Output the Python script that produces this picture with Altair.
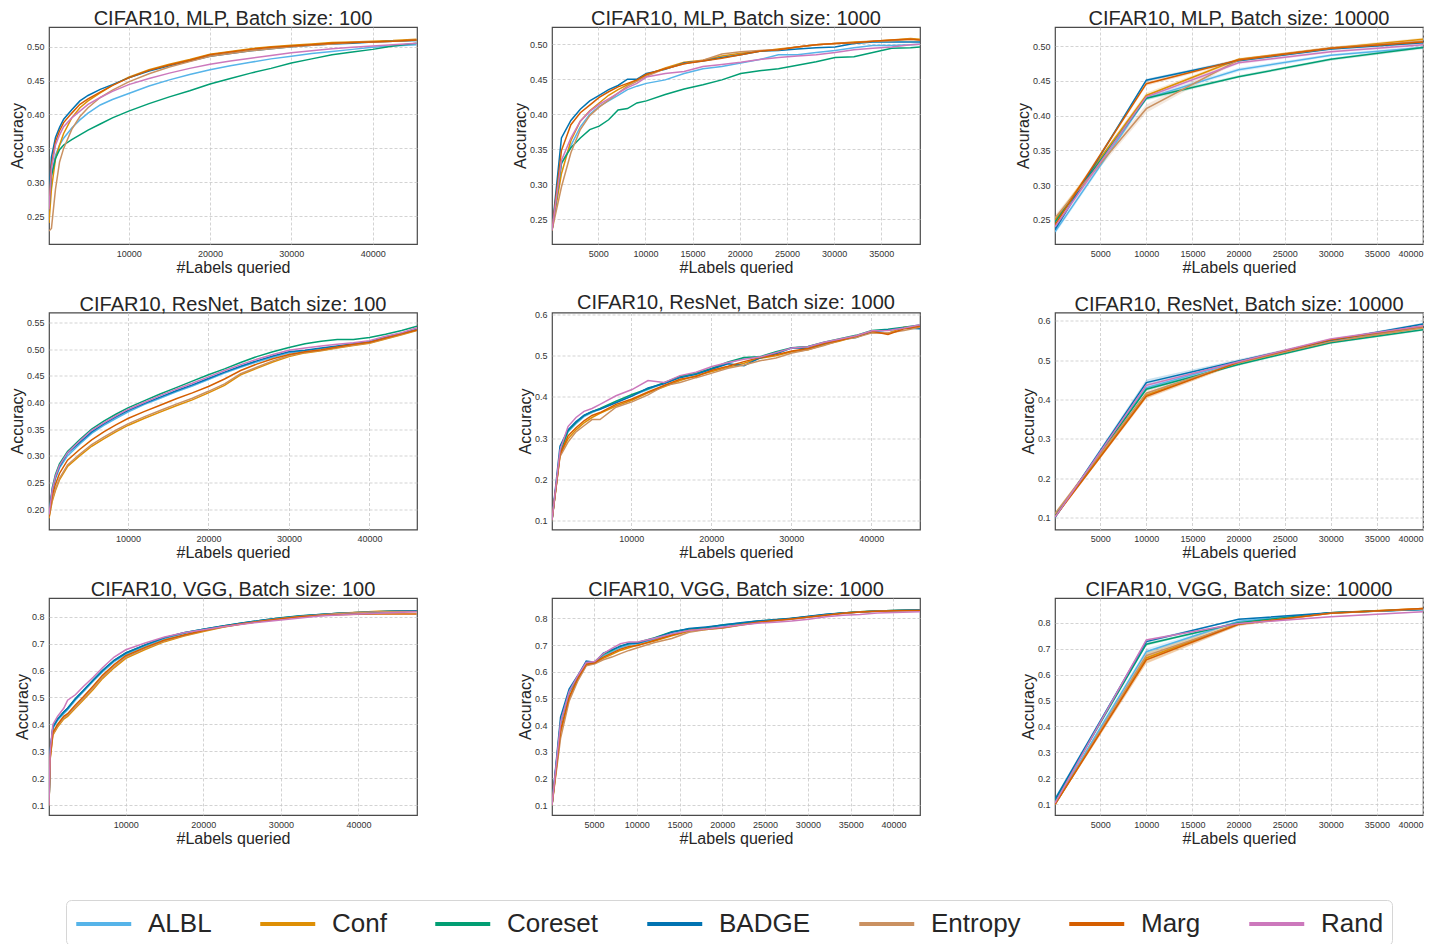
import altair as alt
import pandas as pd

METHODS = ["ALBL", "Conf", "Coreset", "BADGE", "Entropy", "Marg", "Rand"]
COLORS = ["#56B4E9", "#DE8F05", "#029E73", "#0173B2", "#CA9161", "#D55E00", "#CC78BC"]

# ---------------- MLP, batch 100 ----------------
x_mlp100 = [200, 500, 1000, 1500, 2000, 3000, 4000, 5000, 6500, 8000, 10000, 12500, 15000,
            17500, 20000, 22500, 25000, 27500, 30000, 32500, 35000, 37500, 40000, 42500, 45400]
mlp100_albl = [0.26, 0.31, 0.34, 0.355, 0.365, 0.38, 0.392, 0.402, 0.414, 0.422, 0.431, 0.442, 0.451,
               0.459, 0.466, 0.472, 0.477, 0.482, 0.486, 0.49, 0.493, 0.496, 0.499, 0.501, 0.503]
mlp100_conf = [0.24, 0.29, 0.335, 0.355, 0.372, 0.395, 0.41, 0.42, 0.432, 0.443, 0.455, 0.466, 0.474,
               0.481, 0.489, 0.493, 0.497, 0.5, 0.502, 0.504, 0.506, 0.507, 0.508, 0.509, 0.511]
mlp100_coreset = [0.26, 0.31, 0.335, 0.348, 0.355, 0.363, 0.37, 0.377, 0.386, 0.395, 0.405, 0.416, 0.426,
                  0.435, 0.445, 0.453, 0.461, 0.468, 0.476, 0.482, 0.488, 0.492, 0.496, 0.501, 0.505]
mlp100_badge = [0.28, 0.337, 0.366, 0.381, 0.393, 0.407, 0.42, 0.428, 0.437, 0.444, 0.454, 0.464, 0.472,
                0.479, 0.486, 0.49, 0.494, 0.497, 0.5, 0.502, 0.504, 0.505, 0.507, 0.508, 0.509]
mlp100_entropy = [0.228, 0.232, 0.29, 0.33, 0.35, 0.378, 0.397, 0.41, 0.425, 0.436, 0.448, 0.46, 0.47,
                  0.478, 0.486, 0.49, 0.494, 0.497, 0.5, 0.502, 0.504, 0.506, 0.507, 0.508, 0.51]
mlp100_marg = [0.26, 0.325, 0.36, 0.376, 0.388, 0.402, 0.415, 0.423, 0.433, 0.443, 0.454, 0.465, 0.473,
               0.48, 0.488, 0.492, 0.496, 0.499, 0.501, 0.503, 0.505, 0.506, 0.507, 0.508, 0.51]
mlp100_rand = [0.26, 0.32, 0.355, 0.37, 0.382, 0.395, 0.405, 0.415, 0.425, 0.434, 0.444, 0.453, 0.461,
               0.468, 0.474, 0.479, 0.483, 0.487, 0.491, 0.494, 0.497, 0.499, 0.501, 0.503, 0.505]

# ---------------- MLP, batch 1000 ----------------
x_mlp1000 = [100, 1100, 2100, 3100, 4100, 5100, 6100, 7100, 8100, 9100, 10100, 12100, 14100, 16100,
             18100, 20100, 22100, 24100, 26100, 28100, 30100, 32100, 34100, 36100, 38100, 39100]
mlp1000_albl = [0.234, 0.329, 0.355, 0.382, 0.400, 0.411, 0.419, 0.427, 0.435, 0.440, 0.444, 0.449, 0.458,
                0.465, 0.468, 0.473, 0.478, 0.485, 0.485, 0.488, 0.491, 0.495, 0.498, 0.498, 0.499, 0.500]
mlp1000_conf = [0.234, 0.315, 0.362, 0.390, 0.405, 0.416, 0.427, 0.435, 0.442, 0.449, 0.456, 0.466, 0.474,
                0.477, 0.483, 0.487, 0.490, 0.493, 0.496, 0.499, 0.501, 0.503, 0.504, 0.506, 0.508, 0.507]
mlp1000_coreset = [0.234, 0.330, 0.352, 0.366, 0.378, 0.383, 0.392, 0.406, 0.408, 0.416, 0.419, 0.428, 0.436,
                   0.442, 0.449, 0.458, 0.462, 0.465, 0.470, 0.475, 0.481, 0.482, 0.488, 0.494, 0.495, 0.496]
mlp1000_badge = [0.234, 0.366, 0.391, 0.407, 0.419, 0.427, 0.435, 0.441, 0.450, 0.450, 0.458, 0.464, 0.473,
                 0.476, 0.481, 0.485, 0.490, 0.491, 0.493, 0.495, 0.496, 0.501, 0.503, 0.503, 0.503, 0.503]
mlp1000_entropy = [0.234, 0.296, 0.345, 0.378, 0.398, 0.410, 0.420, 0.430, 0.440, 0.447, 0.454, 0.465, 0.472,
                   0.477, 0.486, 0.489, 0.491, 0.492, 0.496, 0.499, 0.501, 0.502, 0.504, 0.505, 0.507, 0.506]
mlp1000_marg = [0.234, 0.348, 0.385, 0.402, 0.413, 0.424, 0.432, 0.439, 0.444, 0.449, 0.457, 0.465, 0.472,
                0.476, 0.480, 0.485, 0.490, 0.492, 0.496, 0.499, 0.501, 0.502, 0.504, 0.506, 0.507, 0.506]
mlp1000_rand = [0.234, 0.334, 0.366, 0.390, 0.404, 0.414, 0.422, 0.430, 0.438, 0.444, 0.453, 0.458, 0.461,
                0.468, 0.471, 0.474, 0.478, 0.481, 0.483, 0.485, 0.488, 0.492, 0.494, 0.496, 0.499, 0.500]

# ---------------- MLP, batch 10000 ----------------
x_mlp10000 = [100, 10000, 20000, 30000, 40000]
mlp10000_albl = [0.233, 0.425, 0.466, 0.487, 0.498]
mlp10000_conf = [0.250, 0.429, 0.481, 0.497, 0.510]
mlp10000_coreset = [0.247, 0.425, 0.456, 0.481, 0.498]
mlp10000_badge = [0.236, 0.451, 0.479, 0.496, 0.505]
mlp10000_entropy = [0.253, 0.410, 0.480, 0.497, 0.507]
mlp10000_marg = [0.243, 0.446, 0.480, 0.497, 0.506]
mlp10000_rand = [0.240, 0.427, 0.476, 0.492, 0.502]
# half-widths of the shaded bands
mlp10000_band = {
    "ALBL": [0.004, 0.003, 0.003, 0.002, 0.002],
    "Conf": [0.004, 0.004, 0.002, 0.002, 0.002],
    "Coreset": [0.003, 0.003, 0.002, 0.002, 0.002],
    "BADGE": [0.003, 0.002, 0.002, 0.002, 0.002],
    "Entropy": [0.004, 0.006, 0.002, 0.002, 0.002],
    "Marg": [0.003, 0.003, 0.002, 0.002, 0.002],
    "Rand": [0.003, 0.003, 0.002, 0.002, 0.002],
}

# ---------------- ResNet, batch 100 ----------------
x_res100 = [200, 600, 1000, 1500, 2500, 4000, 5500, 7000, 8500, 10000, 12000, 14000, 16000, 18000,
            20000, 22000, 24000, 26000, 28000, 30000, 32000, 34000, 36000, 38000, 40000, 42000, 44000, 45900]
res100_albl = [0.19, 0.232, 0.257, 0.277, 0.30, 0.322, 0.342, 0.357, 0.37, 0.382, 0.396, 0.408, 0.42, 0.431,
               0.443, 0.455, 0.466, 0.476, 0.485, 0.493, 0.497, 0.501, 0.505, 0.509, 0.513, 0.521, 0.529, 0.537]
res100_conf = [0.183, 0.215, 0.235, 0.255, 0.28, 0.30, 0.318, 0.332, 0.345, 0.357, 0.37, 0.382, 0.394, 0.405,
               0.418, 0.432, 0.452, 0.464, 0.476, 0.486, 0.493, 0.497, 0.502, 0.507, 0.511, 0.519, 0.527, 0.535]
res100_coreset = [0.19, 0.24, 0.265, 0.285, 0.308, 0.33, 0.35, 0.365, 0.378, 0.39, 0.403, 0.416, 0.428, 0.44,
                  0.452, 0.463, 0.475, 0.486, 0.495, 0.503, 0.51, 0.515, 0.518, 0.518, 0.522, 0.528, 0.535, 0.543]
res100_badge = [0.19, 0.235, 0.26, 0.28, 0.305, 0.325, 0.345, 0.36, 0.373, 0.385, 0.398, 0.41, 0.422, 0.433,
                0.445, 0.457, 0.468, 0.478, 0.487, 0.495, 0.498, 0.502, 0.506, 0.51, 0.514, 0.522, 0.53, 0.537]
res100_entropy = [0.185, 0.218, 0.238, 0.258, 0.283, 0.303, 0.321, 0.335, 0.348, 0.36, 0.373, 0.385, 0.397, 0.408,
                  0.421, 0.435, 0.454, 0.466, 0.478, 0.488, 0.494, 0.498, 0.503, 0.508, 0.512, 0.52, 0.528, 0.536]
res100_marg = [0.186, 0.225, 0.247, 0.267, 0.292, 0.312, 0.33, 0.345, 0.358, 0.37, 0.383, 0.395, 0.407, 0.418,
               0.43, 0.444, 0.46, 0.472, 0.482, 0.49, 0.495, 0.499, 0.504, 0.509, 0.513, 0.521, 0.529, 0.536]
res100_rand = [0.19, 0.236, 0.262, 0.282, 0.306, 0.328, 0.348, 0.362, 0.375, 0.387, 0.40, 0.413, 0.425, 0.436,
               0.448, 0.46, 0.471, 0.481, 0.49, 0.498, 0.502, 0.506, 0.509, 0.512, 0.516, 0.524, 0.531, 0.54]

# ---------------- ResNet, batch 1000 ----------------
x_res1000 = [100, 1100, 2100, 3100, 4100, 5100, 6100, 8100, 10100, 12100, 14100, 16100, 18100, 20100,
             22100, 24100, 26100, 28100, 30100, 32100, 34100, 36100, 38100, 40100, 42100, 44100, 46100]
res1000_albl = [0.100, 0.262, 0.315, 0.335, 0.352, 0.362, 0.37, 0.388, 0.403, 0.418, 0.433, 0.45, 0.456, 0.468,
                0.482, 0.495, 0.497, 0.506, 0.519, 0.522, 0.532, 0.54, 0.548, 0.558, 0.563, 0.568, 0.574]
res1000_conf = [0.100, 0.258, 0.298, 0.32, 0.337, 0.35, 0.36, 0.378, 0.392, 0.41, 0.425, 0.44, 0.452, 0.462,
                0.472, 0.482, 0.494, 0.50, 0.51, 0.515, 0.527, 0.536, 0.548, 0.557, 0.555, 0.57, 0.572]
res1000_coreset = [0.100, 0.265, 0.318, 0.338, 0.355, 0.364, 0.372, 0.39, 0.406, 0.42, 0.435, 0.45, 0.458, 0.47,
                   0.485, 0.496, 0.498, 0.51, 0.52, 0.523, 0.533, 0.542, 0.55, 0.562, 0.565, 0.57, 0.575]
res1000_badge = [0.100, 0.280, 0.320, 0.340, 0.355, 0.365, 0.370, 0.386, 0.402, 0.422, 0.432, 0.447, 0.455, 0.468,
                 0.481, 0.476, 0.495, 0.505, 0.520, 0.518, 0.530, 0.540, 0.545, 0.560, 0.563, 0.568, 0.566]
res1000_entropy = [0.100, 0.255, 0.29, 0.315, 0.33, 0.345, 0.345, 0.375, 0.388, 0.405, 0.427, 0.435, 0.447, 0.458,
                   0.47, 0.478, 0.488, 0.495, 0.507, 0.515, 0.525, 0.538, 0.545, 0.556, 0.556, 0.562, 0.57]
res1000_marg = [0.100, 0.26, 0.305, 0.325, 0.342, 0.355, 0.362, 0.382, 0.395, 0.412, 0.428, 0.443, 0.45, 0.465,
                0.475, 0.486, 0.496, 0.503, 0.512, 0.518, 0.53, 0.538, 0.548, 0.56, 0.552, 0.566, 0.572]
res1000_rand = [0.100, 0.27, 0.328, 0.35, 0.365, 0.372, 0.382, 0.403, 0.418, 0.44, 0.435, 0.452, 0.46, 0.474,
                0.484, 0.492, 0.497, 0.508, 0.519, 0.522, 0.533, 0.541, 0.549, 0.561, 0.562, 0.568, 0.576]

# ---------------- ResNet, batch 10000 ----------------
x_res10000 = [100, 10000, 20000, 30000, 40000]
res10000_albl = [0.103, 0.430, 0.495, 0.549, 0.584]
res10000_conf = [0.105, 0.411, 0.494, 0.546, 0.583]
res10000_coreset = [0.104, 0.426, 0.489, 0.544, 0.577]
res10000_badge = [0.100, 0.443, 0.498, 0.550, 0.592]
res10000_entropy = [0.110, 0.416, 0.494, 0.547, 0.582]
res10000_marg = [0.102, 0.408, 0.495, 0.552, 0.586]
res10000_rand = [0.101, 0.436, 0.496, 0.554, 0.587]
res10000_band = {
    "ALBL": [0.003, 0.005, 0.003, 0.003, 0.003],
    "Conf": [0.004, 0.007, 0.004, 0.003, 0.004],
    "Coreset": [0.003, 0.004, 0.003, 0.003, 0.003],
    "BADGE": [0.003, 0.008, 0.004, 0.003, 0.003],
    "Entropy": [0.004, 0.006, 0.004, 0.004, 0.004],
    "Marg": [0.003, 0.006, 0.004, 0.003, 0.003],
    "Rand": [0.003, 0.004, 0.003, 0.003, 0.003],
}

# ---------------- VGG, batch 100 ----------------
x_vgg100 = [100, 250, 600, 1200, 2000, 2500, 3500, 4500, 5800, 7000, 8500, 10000, 12500, 15000,
            17500, 20000, 22500, 25000, 27500, 30000, 32500, 35000, 37500, 40000, 42500, 45000, 47500]
vgg100_albl = [0.10, 0.29, 0.385, 0.415, 0.44, 0.455, 0.49, 0.52, 0.56, 0.595, 0.633, 0.66, 0.69, 0.718,
               0.737, 0.751, 0.763, 0.775, 0.785, 0.794, 0.801, 0.807, 0.811, 0.814, 0.817, 0.82, 0.821]
vgg100_conf = [0.10, 0.27, 0.36, 0.39, 0.42, 0.43, 0.46, 0.49, 0.53, 0.57, 0.61, 0.645, 0.678, 0.707,
               0.728, 0.745, 0.76, 0.772, 0.783, 0.793, 0.801, 0.807, 0.812, 0.816, 0.82, 0.82, 0.82]
vgg100_coreset = [0.10, 0.30, 0.39, 0.42, 0.446, 0.46, 0.495, 0.525, 0.565, 0.60, 0.638, 0.665, 0.695, 0.722,
                  0.74, 0.753, 0.765, 0.776, 0.786, 0.796, 0.803, 0.808, 0.812, 0.815, 0.818, 0.821, 0.822]
vgg100_badge = [0.10, 0.30, 0.39, 0.42, 0.446, 0.46, 0.495, 0.525, 0.565, 0.60, 0.638, 0.665, 0.695, 0.722,
                0.74, 0.753, 0.765, 0.776, 0.786, 0.795, 0.802, 0.808, 0.812, 0.815, 0.818, 0.821, 0.822]
vgg100_entropy = [0.10, 0.275, 0.365, 0.395, 0.425, 0.435, 0.465, 0.495, 0.535, 0.575, 0.615, 0.65, 0.682, 0.71,
                  0.73, 0.747, 0.761, 0.773, 0.784, 0.793, 0.8, 0.806, 0.811, 0.815, 0.818, 0.819, 0.819]
vgg100_marg = [0.10, 0.28, 0.37, 0.40, 0.43, 0.44, 0.472, 0.502, 0.543, 0.582, 0.622, 0.655, 0.686, 0.713,
               0.732, 0.748, 0.762, 0.773, 0.783, 0.792, 0.799, 0.804, 0.807, 0.809, 0.81, 0.81, 0.81]
vgg100_rand = [0.10, 0.30, 0.40, 0.43, 0.46, 0.49, 0.51, 0.54, 0.575, 0.61, 0.65, 0.677, 0.702, 0.724,
               0.74, 0.751, 0.762, 0.772, 0.78, 0.787, 0.795, 0.802, 0.806, 0.81, 0.812, 0.815, 0.818]

# ---------------- VGG, batch 1000 ----------------
x_vgg1000 = [100, 1100, 2100, 3100, 4100, 5100, 6100, 7100, 8100, 9100, 10100, 12100, 14100, 16100,
             18100, 20100, 22100, 24100, 26100, 28100, 30100, 32100, 34100, 36100, 38100, 40100, 43100]
vgg1000_albl = [0.10, 0.40, 0.52, 0.58, 0.632, 0.635, 0.66, 0.675, 0.69, 0.70, 0.705, 0.722, 0.742, 0.757,
                0.765, 0.772, 0.781, 0.788, 0.794, 0.80, 0.806, 0.814, 0.82, 0.824, 0.827, 0.829, 0.831]
vgg1000_conf = [0.10, 0.37, 0.50, 0.57, 0.625, 0.632, 0.65, 0.665, 0.68, 0.69, 0.70, 0.715, 0.735, 0.752,
                0.758, 0.765, 0.775, 0.785, 0.792, 0.80, 0.806, 0.813, 0.82, 0.825, 0.828, 0.83, 0.831]
vgg1000_coreset = [0.10, 0.41, 0.525, 0.58, 0.635, 0.638, 0.665, 0.68, 0.697, 0.705, 0.71, 0.728, 0.75, 0.76,
                   0.765, 0.776, 0.782, 0.79, 0.795, 0.80, 0.807, 0.815, 0.82, 0.825, 0.828, 0.83, 0.832]
vgg1000_badge = [0.10, 0.43, 0.535, 0.585, 0.64, 0.636, 0.67, 0.683, 0.695, 0.707, 0.707, 0.726, 0.748, 0.762,
                 0.768, 0.775, 0.784, 0.79, 0.795, 0.801, 0.808, 0.816, 0.82, 0.824, 0.828, 0.83, 0.832]
vgg1000_entropy = [0.10, 0.35, 0.49, 0.565, 0.622, 0.63, 0.645, 0.655, 0.668, 0.68, 0.69, 0.71, 0.725, 0.748,
                   0.758, 0.764, 0.774, 0.784, 0.79, 0.797, 0.804, 0.812, 0.818, 0.824, 0.827, 0.829, 0.83]
vgg1000_marg = [0.10, 0.38, 0.505, 0.575, 0.628, 0.634, 0.655, 0.67, 0.685, 0.695, 0.698, 0.718, 0.738, 0.755,
                0.76, 0.766, 0.776, 0.786, 0.792, 0.798, 0.805, 0.812, 0.819, 0.824, 0.827, 0.829, 0.83]
vgg1000_rand = [0.10, 0.41, 0.525, 0.585, 0.635, 0.638, 0.668, 0.688, 0.705, 0.712, 0.712, 0.726, 0.742, 0.755,
                0.76, 0.768, 0.775, 0.782, 0.786, 0.79, 0.797, 0.806, 0.812, 0.815, 0.82, 0.822, 0.825]

# ---------------- VGG, batch 10000 ----------------
x_vgg10000 = [100, 10000, 20000, 30000, 40000]
vgg10000_albl = [0.105, 0.688, 0.805, 0.838, 0.851]
vgg10000_conf = [0.100, 0.664, 0.797, 0.838, 0.855]
vgg10000_coreset = [0.115, 0.717, 0.800, 0.838, 0.852]
vgg10000_badge = [0.120, 0.727, 0.813, 0.838, 0.851]
vgg10000_entropy = [0.100, 0.673, 0.794, 0.836, 0.853]
vgg10000_marg = [0.100, 0.657, 0.794, 0.836, 0.855]
vgg10000_rand = [0.105, 0.733, 0.797, 0.823, 0.842]
vgg10000_band = {
    "ALBL": [0.012, 0.012, 0.004, 0.002, 0.002],
    "Conf": [0.005, 0.02, 0.008, 0.003, 0.002],
    "Coreset": [0.006, 0.006, 0.003, 0.002, 0.002],
    "BADGE": [0.008, 0.005, 0.003, 0.002, 0.002],
    "Entropy": [0.005, 0.018, 0.008, 0.003, 0.002],
    "Marg": [0.005, 0.015, 0.006, 0.003, 0.002],
    "Rand": [0.005, 0.004, 0.003, 0.002, 0.002],
}

# ---------------- tick labels / ranges ----------------
ticks_10k = [10000, 20000, 30000, 40000]
ticks_5k_35 = [5000, 10000, 15000, 20000, 25000, 30000, 35000]
ticks_5k_40 = [5000, 10000, 15000, 20000, 25000, 30000, 35000, 40000]
yt_mlp = [0.25, 0.30, 0.35, 0.40, 0.45, 0.50]
yt_res100 = [0.20, 0.25, 0.30, 0.35, 0.40, 0.45, 0.50, 0.55]
yt_res = [0.1, 0.2, 0.3, 0.4, 0.5, 0.6]
yt_vgg = [0.1, 0.2, 0.3, 0.4, 0.5, 0.6, 0.7, 0.8]

panels = [
    ("CIFAR10, MLP, Batch size: 100", x_mlp100,
     [mlp100_albl, mlp100_conf, mlp100_coreset, mlp100_badge, mlp100_entropy, mlp100_marg, mlp100_rand],
     [200, 45450], [0.209, 0.529], ticks_10k, yt_mlp, ".2f", None),
    ("CIFAR10, MLP, Batch size: 1000", x_mlp1000,
     [mlp1000_albl, mlp1000_conf, mlp1000_coreset, mlp1000_badge, mlp1000_entropy, mlp1000_marg, mlp1000_rand],
     [100, 39100], [0.2146, 0.5245], ticks_5k_35, yt_mlp, ".2f", None),
    ("CIFAR10, MLP, Batch size: 10000", x_mlp10000,
     [mlp10000_albl, mlp10000_conf, mlp10000_coreset, mlp10000_badge, mlp10000_entropy, mlp10000_marg, mlp10000_rand],
     [100, 40000], [0.2154, 0.5275], ticks_5k_40, yt_mlp, ".2f", mlp10000_band),
    ("CIFAR10, ResNet, Batch size: 100", x_res100,
     [res100_albl, res100_conf, res100_coreset, res100_badge, res100_entropy, res100_marg, res100_rand],
     [200, 45900], [0.162, 0.5687], ticks_10k, yt_res100, ".2f", None),
    ("CIFAR10, ResNet, Batch size: 1000", x_res1000,
     [res1000_albl, res1000_conf, res1000_coreset, res1000_badge, res1000_entropy, res1000_marg, res1000_rand],
     [100, 46100], [0.0774, 0.6056], ticks_10k, yt_res, ".1f", None),
    ("CIFAR10, ResNet, Batch size: 10000", x_res10000,
     [res10000_albl, res10000_conf, res10000_coreset, res10000_badge, res10000_entropy, res10000_marg, res10000_rand],
     [100, 40000], [0.0697, 0.621], ticks_5k_40, yt_res, ".1f", res10000_band),
    ("CIFAR10, VGG, Batch size: 100", x_vgg100,
     [vgg100_albl, vgg100_conf, vgg100_coreset, vgg100_badge, vgg100_entropy, vgg100_marg, vgg100_rand],
     [100, 47550], [0.0643, 0.8689], ticks_10k, yt_vgg, ".1f", None),
    ("CIFAR10, VGG, Batch size: 1000", x_vgg1000,
     [vgg1000_albl, vgg1000_conf, vgg1000_coreset, vgg1000_badge, vgg1000_entropy, vgg1000_marg, vgg1000_rand],
     [100, 43100], [0.063, 0.8765], ticks_5k_40, yt_vgg, ".1f", None),
    ("CIFAR10, VGG, Batch size: 10000", x_vgg10000,
     [vgg10000_albl, vgg10000_conf, vgg10000_coreset, vgg10000_badge, vgg10000_entropy, vgg10000_marg, vgg10000_rand],
     [100, 40000], [0.059, 0.895], ticks_5k_40, yt_vgg, ".1f", vgg10000_band),
]

FONT = "Liberation Sans"

# custom stroke symbol: a horizontal line starting at the entry's left edge
legend = alt.Legend(
    title=None, orient="none", legendX=17, legendY=873, direction="horizontal", columns=7,
    symbolType="M-1,0H3", symbolSize=756, symbolStrokeWidth=4, labelFontSize=26, labelFont=FONT,
    labelColor="#262626", labelOffset=42, columnPadding=40, padding=8, strokeColor="#d6d6d6",
    cornerRadius=5, fillColor="white", labelLimit=300,
)
color_scale = alt.Scale(domain=METHODS, range=COLORS)


def make_panel(title, xs, series, xdom, ydom, xticks, yticks, yfmt, band):
    rows = []
    for m, ys in zip(METHODS, series):
        hw = band[m] if band else [0.0] * len(xs)
        for xv, yv, h in zip(xs, ys, hw):
            rows.append({"x": xv, "y": yv, "lo": yv - h, "hi": yv + h, "method": m})
    df = pd.DataFrame(rows)
    xenc = alt.X("x:Q", scale=alt.Scale(domain=xdom, nice=False, zero=False),
                 axis=alt.Axis(values=xticks, format="d", title="#Labels queried"))
    base = alt.Chart(df, title=alt.TitleParams(title))
    lines = base.mark_line(strokeWidth=1.5, clip=True).encode(
        x=xenc,
        y=alt.Y("y:Q", scale=alt.Scale(domain=ydom, nice=False, zero=False),
                axis=alt.Axis(values=yticks, format=yfmt, title="Accuracy")),
        color=alt.Color("method:N", scale=color_scale, legend=legend),
    )
    if band:
        areas = base.mark_area(opacity=0.2, clip=True).encode(
            x=xenc,
            y=alt.Y("lo:Q", scale=alt.Scale(domain=ydom, nice=False, zero=False),
                    axis=alt.Axis(values=yticks, format=yfmt, title="Accuracy")),
            y2="hi:Q",
            color=alt.Color("method:N", scale=color_scale, legend=None),
        )
        chart = alt.layer(areas, lines)
    else:
        chart = lines
    return chart.properties(width=368, height=217)


charts = [make_panel(*p) for p in panels]

chart = alt.ConcatChart(
    concat=charts, columns=3, spacing={"row": 68.5, "column": 135}, bounds="flush",
).resolve_scale(x="independent", y="independent", color="shared").properties(
    padding={"left": 0, "top": 0, "right": 0, "bottom": 0}, background="white"
).configure_view(
    stroke="#4a4a4a", strokeWidth=1.2
).configure_axis(
    labelFont=FONT, labelFontSize=9, labelColor="#333333", labelPadding=5,
    titleFont=FONT, titleFontSize=16, titleFontWeight="normal", titleColor="#262626", titlePadding=1,
    ticks=False, domain=False, grid=True, gridColor="#c8c8c8", gridDash=[3, 2], gridWidth=0.8,
).configure_title(
    font=FONT, fontSize=20, fontWeight="normal", color="#262626", offset=-2,
)

chart.save("out.html", embed_options={"renderer": "svg", "actions": False})
